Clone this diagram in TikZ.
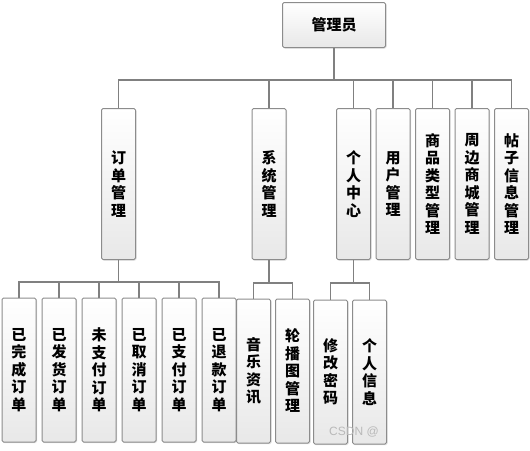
\documentclass[tikz,border=0pt]{standalone}
\usepackage{fontspec}
\setmainfont{Noto Sans CJK SC}
\newfontfamily\wmfont{Liberation Sans}
\usetikzlibrary{positioning,shadows}
\tikzstyle{module}=[
	rectangle,
	rounded corners=1.5pt,
	draw=black!45,
	line width=1pt,
	top color=white,
	bottom color=gray!18,
	drop shadow={shadow xshift=1pt,shadow yshift=-1pt,opacity=0.25},
	inner sep=0pt,
	minimum width=34pt,
	align=center,
	font=\fontsize{15}{17.5}\selectfont\bfseries
]
\tikzstyle{topmodule}=[
	module,
	minimum height=151pt,
	node distance=0pt and 4.5pt
]
\tikzstyle{submodule}=[
	module,
	minimum height=144pt,
	node distance=0pt and 5pt
]
\tikzstyle{link}=[
	draw=gray,
	line width=1.2pt
]

\begin{document}
\begin{tikzpicture}[x=1pt,y=-1pt]
\useasboundingbox (0,0) rectangle (530,450);
% root
\node [module, minimum width=103pt, minimum height=45pt] (admin) at (334,25) {管理员};
% first level
\node [topmodule] (order) at (118.5,184) {订\\单\\管\\理};
\node [topmodule] (system) at (269,184) {系\\统\\管\\理};
\node [topmodule] (personal) at (353.5,184) {个\\人\\中\\心};
\node [topmodule] (user)[right=of personal] {用\\户\\管\\理};
\node [topmodule] (goodstype)[right=of user] {商\\品\\类\\型\\管\\理};
\node [topmodule] (mall)[right=of goodstype] {周\\边\\商\\城\\管\\理};
\node [topmodule] (post)[right=of mall] {帖\\子\\信\\息\\管\\理};
% order children
\node [submodule] (done) at (19,370) {已\\完\\成\\订\\单};
\node [submodule] (shipped)[right=of done] {已\\发\\货\\订\\单};
\node [submodule] (unpaid)[right=of shipped] {未\\支\\付\\订\\单};
\node [submodule] (cancelled)[right=of unpaid] {已\\取\\消\\订\\单};
\node [submodule] (paid)[right=of cancelled] {已\\支\\付\\订\\单};
\node [submodule] (refunded)[right=of paid] {已\\退\\款\\订\\单};
% system children
\node [submodule] (music) at (253.5,371) {音\\乐\\资\\讯};
\node [submodule] (banner)[right=4pt of music] {轮\\播\\图\\管\\理};
% personal children
\node [submodule] (password) at (330.5,372) {修\\改\\密\\码};
\node [submodule] (info)[right=4pt of password] {个\\人\\信\\息};

\foreach \k in {order,system,personal,user,goodstype,mall,post}
	\draw [link] (admin.south) -- ++(0,32) -| (\k.north);
\foreach \k in {done,shipped,unpaid,cancelled,paid,refunded}
	\draw [link] (order.south) -- ++(0,22) -| (\k.north);
\foreach \k in {music,banner}
	\draw [link] (system.south) -- ++(0,23) -| (\k.north);
\foreach \k in {password,info}
	\draw [link] (personal.south) -- ++(0,23) -| (\k.north);

\node [text=gray!55, font=\wmfont\fontsize{12}{12}\selectfont] (mark) at (354,432) {CSDN @};
\end{tikzpicture}
\end{document}
